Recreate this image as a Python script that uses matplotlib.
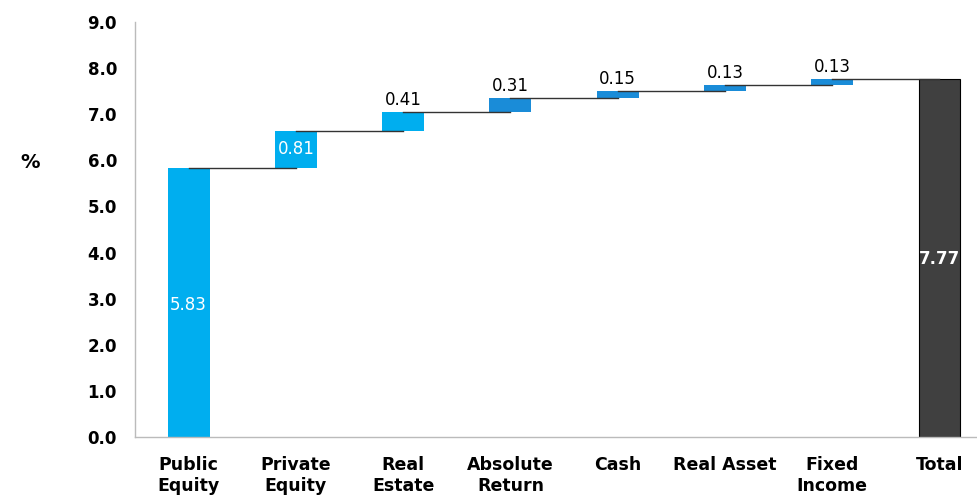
import numpy as np
import matplotlib
matplotlib.use("Agg")
import matplotlib.pyplot as plt

plt.rcParams['font.family'] = ['DejaVu Sans']

categories = ["Public\nEquity", "Private\nEquity", "Real\nEstate", "Absolute\nReturn",
              "Cash", "Real Asset", "Fixed\nIncome", "Total"]
contrib = [5.83, 0.81, 0.41, 0.31, 0.15, 0.13, 0.13]
total = 7.77
yticks = np.arange(0, 9.5, 1.0)

light = "#00AEEF"
dark = "#1A8CD8"
bar_colors = [light, light, light, dark, dark, dark, dark]

fig = plt.figure(figsize=(9.77, 4.96), dpi=100)
ax = fig.add_axes([135 / 977, 1 - 437 / 496, 1 - 135 / 977, (437 - 22) / 496])

x = np.arange(len(categories))
w = 0.39
cum = np.cumsum(contrib)
bottoms = np.concatenate([[0], cum[:-1]])

ax.bar(x[:-1], contrib, bottom=bottoms, width=w, color=bar_colors, zorder=2)
ax.bar(x[-1], total, width=w, color="#404040", edgecolor="black", linewidth=0.8, zorder=2)

# connector lines from the middle of a bar to the middle of the next one
for i in range(len(cum)):
    ax.plot([x[i], x[i + 1]], [cum[i], cum[i]], color="#333333", lw=1.0, zorder=3)

# value labels
for i, v in enumerate(contrib):
    if i == 0:
        ax.text(x[i], v / 2 - 0.05, f"{v:.2f}", color="white", ha="center", va="center", fontsize=12)
    elif i == 1:
        ax.text(x[i], bottoms[i] + v / 2, f"{v:.2f}", color="white", ha="center", va="center", fontsize=12)
    else:
        ax.text(x[i], cum[i] + 0.06, f"{v:.2f}", color="black", ha="center", va="bottom", fontsize=12)
ax.text(x[-1], 3.85, f"{total:.2f}", color="white", ha="center", va="center",
        fontsize=12, fontweight="bold")

ax.set_xlim(-0.5, 7.35)
ax.set_ylim(0, 9)
ax.set_yticks(yticks)
ax.set_yticklabels([f"{t:.1f}" for t in yticks], fontsize=12, fontweight="bold")
ax.set_xticks(x)
ax.set_xticklabels(categories, fontsize=12.5, fontweight="bold", linespacing=1.15)
ax.tick_params(length=0)
ax.tick_params(axis="y", pad=13)
ax.tick_params(axis="x", pad=14)

for s in ["top", "right"]:
    ax.spines[s].set_visible(False)
for s in ["left", "bottom"]:
    ax.spines[s].set_color("#BBBBBB")
    ax.spines[s].set_linewidth(1.0)

fig.text(30 / 977, 1 - 163 / 496, "%", fontsize=14, fontweight="bold", ha="center", va="center")

fig.savefig("out.png", dpi=100)
